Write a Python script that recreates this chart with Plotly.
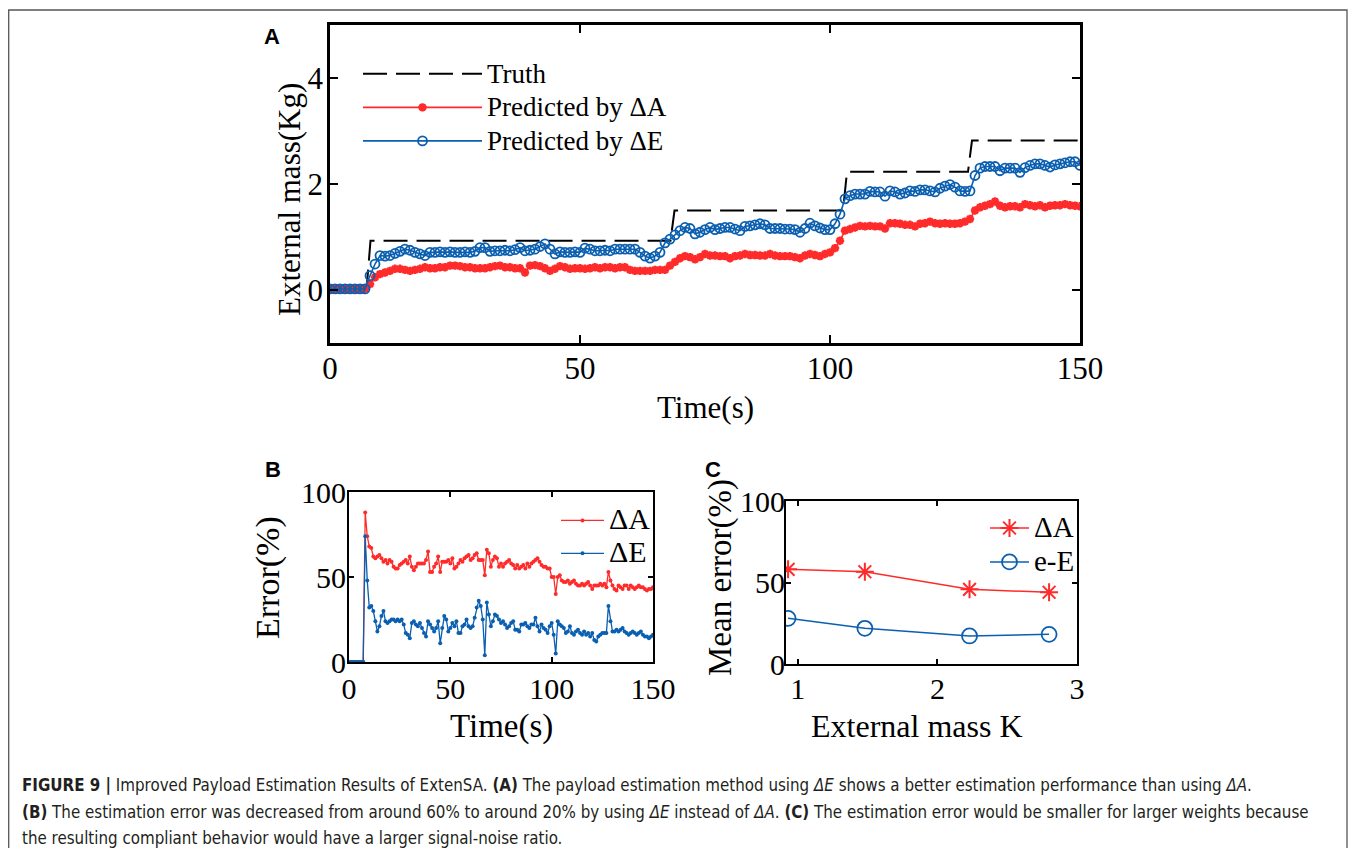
"""
Figure 9 - payload estimation results (three panels + caption)
"""
import plotly.graph_objects as go

W, H = 1340, 840
SERIF = "Liberation Serif"
RED = "#ff2b2b"
BLUE = "#0b5fb0"

# ---------------- panel A : external mass vs time (1 s samples)
time_s = list(range(151))
truth_t = [0, 7.3, 8.1, 68.1, 68.9, 102.6, 103.4, 127.6, 128.4, 150]
truth_kg = [0, 0, 0.93, 0.93, 1.50, 1.50, 2.23, 2.23, 2.82, 2.82]
pred_da = [
    0.02, 0.02, 0.02, 0.02, 0.02, 0.02, 0.02, 0.02,
    0.11, 0.24, 0.30, 0.33, 0.36, 0.40, 0.40, 0.38, 0.36, 0.38, 0.40, 0.43,
    0.41, 0.41, 0.43, 0.43, 0.46, 0.46, 0.45, 0.43, 0.43, 0.41,
    0.41, 0.41, 0.43, 0.45, 0.46, 0.43, 0.43, 0.41, 0.41, 0.33,
    0.46, 0.47, 0.45, 0.41, 0.36, 0.40, 0.45, 0.43, 0.40, 0.41,
    0.41, 0.40, 0.41, 0.43, 0.41, 0.43, 0.43, 0.41, 0.43, 0.43,
    0.38, 0.36, 0.36, 0.36, 0.36, 0.38, 0.38, 0.38, 0.46, 0.53,
    0.60, 0.64, 0.62, 0.58, 0.62, 0.68, 0.65, 0.65, 0.64, 0.64,
    0.60, 0.64, 0.65, 0.68, 0.66, 0.66, 0.65, 0.65, 0.68, 0.65,
    0.64, 0.64, 0.64, 0.62, 0.60, 0.65, 0.68, 0.66, 0.64, 0.68,
    0.71, 0.79, 0.93, 1.12, 1.15, 1.18, 1.21, 1.20, 1.21, 1.20,
    1.20, 1.16, 1.26, 1.26, 1.25, 1.23, 1.23, 1.20, 1.25, 1.26,
    1.29, 1.26, 1.25, 1.26, 1.25, 1.25, 1.26, 1.29, 1.34, 1.50,
    1.56, 1.59, 1.62, 1.67, 1.59, 1.56, 1.58, 1.58, 1.56, 1.62,
    1.60, 1.58, 1.60, 1.56, 1.59, 1.60, 1.60, 1.62, 1.60, 1.59,
    1.58,
]
pred_de = [
    0.02, 0.02, 0.02, 0.02, 0.02, 0.02, 0.02, 0.02,
    0.27, 0.49, 0.65, 0.64, 0.65, 0.69, 0.73, 0.77, 0.75, 0.71, 0.68, 0.65,
    0.71, 0.71, 0.72, 0.71, 0.72, 0.71, 0.71, 0.72, 0.71, 0.73,
    0.80, 0.80, 0.73, 0.74, 0.74, 0.75, 0.74, 0.76, 0.80, 0.74,
    0.75, 0.77, 0.82, 0.87, 0.77, 0.68, 0.72, 0.71, 0.71, 0.72,
    0.71, 0.79, 0.77, 0.74, 0.74, 0.75, 0.74, 0.77, 0.77, 0.77,
    0.77, 0.77, 0.71, 0.64, 0.60, 0.64, 0.71, 0.89, 0.96, 1.04,
    1.12, 1.18, 1.16, 1.06, 1.09, 1.14, 1.18, 1.14, 1.16, 1.18,
    1.18, 1.15, 1.12, 1.20, 1.21, 1.23, 1.25, 1.23, 1.16, 1.16,
    1.16, 1.15, 1.15, 1.14, 1.09, 1.16, 1.26, 1.21, 1.17, 1.14,
    1.14, 1.25, 1.43, 1.72, 1.78, 1.81, 1.81, 1.81, 1.86, 1.85,
    1.85, 1.77, 1.87, 1.85, 1.81, 1.83, 1.87, 1.86, 1.89, 1.89,
    1.87, 1.85, 1.92, 1.96, 1.99, 1.94, 1.87, 1.86, 1.87, 2.16,
    2.30, 2.33, 2.33, 2.33, 2.25, 2.30, 2.30, 2.30, 2.22, 2.31,
    2.35, 2.38, 2.38, 2.35, 2.32, 2.36, 2.38, 2.40, 2.42, 2.42,
    2.35,
]

# ---------------- panel B : estimation error (%)
err_da = [
    0, 0, 0, 0, 0, 0, 0, 0,
    88, 74, 68, 67, 62, 61, 62, 63, 61, 59, 60, 58,
    60, 59, 56, 55, 55, 57, 58, 59, 60, 58,
    62, 56, 54, 56, 58, 58, 58, 58, 60, 65,
    53, 53, 56, 58, 62, 53, 59, 59, 59, 60,
    58, 61, 55, 56, 58, 60, 59, 61, 62, 63,
    60, 61, 63, 64, 60, 60, 60, 51, 66, 64,
    56, 60, 62, 61, 56, 58, 56, 58, 59, 60,
    58, 57, 55, 57, 55, 56, 57, 55, 58, 56,
    58, 59, 60, 61, 59, 57, 56, 56, 55, 55,
    50, 50, 40, 50, 51, 48, 47, 47, 48, 46,
    47, 48, 46, 45, 45, 46, 45, 46, 47, 45,
    43, 45, 45, 45, 46, 45, 46, 44, 53, 48,
    45, 43, 42, 45, 44, 43, 45, 45, 43, 45,
    44, 43, 44, 45, 44, 44, 43, 42, 43, 43,
    44,
]
err_de = [
    0, 0, 0, 0, 0, 0, 0, 0,
    74, 48, 32, 33, 30, 24, 18, 21, 27, 30, 24, 23,
    24, 25, 25, 24, 25, 24, 25, 22, 17, 16,
    14, 23, 24, 22, 21, 23, 20, 17, 15, 24,
    22, 20, 18, 20, 24, 11, 20, 27, 25, 18,
    20, 23, 21, 24, 17, 17, 21, 22, 25, 21,
    20, 21, 26, 32, 36, 33, 25, 4, 35, 28,
    21, 24, 28, 27, 25, 23, 24, 22, 20, 21,
    23, 24, 19, 19, 18, 22, 22, 23, 21, 20,
    22, 22, 26, 21, 18, 22, 20, 19, 17, 21,
    23, 16, 5, 24, 22, 21, 20, 17, 18, 21,
    17, 16, 18, 19, 17, 16, 18, 16, 17, 15,
    17, 13, 12, 15, 16, 17, 17, 17, 33, 24,
    18, 18, 19, 18, 19, 20, 18, 17, 16, 17,
    18, 17, 16, 17, 18, 16, 15, 15, 14, 15,
    16,
]

# ---------------- panel C : mean error per load
mass_k = [0.93, 1.48, 2.23, 2.80]
mean_err_da = [58.1, 56.6, 45.8, 44.0]
mean_err_de = [28.0, 21.9, 17.2, 18.2]


# reference pixel -> paper coordinates (page body adds an 8 px offset)
def fx(x):
    return (x - 8) / W


def fy(y):
    return 1 - (y - 8) / H


def axis_style(lw, ticklen, size, standoff):
    return dict(
        showline=True, linecolor="black", linewidth=lw, mirror="ticks",
        ticks="inside", ticklen=ticklen, tickwidth=lw - 0.5, tickcolor="black",
        showgrid=False, zeroline=False, automargin=False,
        ticklabelstandoff=standoff,
        tickfont=dict(family=SERIF, size=size, color="black"),
    )


def big(text, size):
    # legend row height follows legend.font.size, so the label is enlarged separately
    return '<span style="font-size:%dpx">%s</span>' % (size, text)


fig = go.Figure()

# panel A
fig.add_trace(go.Scatter(
    x=truth_t, y=truth_kg, mode="lines", name=big("Truth", 27),
    line=dict(color="black", width=2, dash="24px,9px"),
    xaxis="x", yaxis="y", legend="legend"
))
fig.add_trace(go.Scatter(
    x=time_s, y=pred_da, mode="lines+markers", name=big("Predicted by ΔA", 27),
    line=dict(color=RED, width=1.6),
    marker=dict(symbol="asterisk-open", size=7, line=dict(color=RED, width=2.6)),
    xaxis="x", yaxis="y", legend="legend"
))
fig.add_trace(go.Scatter(
    x=time_s, y=pred_de, mode="lines+markers", name=big("Predicted by ΔE", 27),
    line=dict(color=BLUE, width=1.6),
    marker=dict(symbol="circle-open", size=9, line=dict(color=BLUE, width=1.8)),
    xaxis="x", yaxis="y", legend="legend"
))

# panel B
fig.add_trace(go.Scatter(
    x=time_s, y=err_da, mode="lines+markers", name=big("ΔA", 30),
    line=dict(color=RED, width=1.3), marker=dict(color=RED, size=4),
    xaxis="x2", yaxis="y2", legend="legend2"
))
fig.add_trace(go.Scatter(
    x=time_s, y=err_de, mode="lines+markers", name=big("ΔE", 30),
    line=dict(color=BLUE, width=1.3), marker=dict(color=BLUE, size=4),
    xaxis="x2", yaxis="y2", legend="legend2"
))

# panel C
fig.add_trace(go.Scatter(
    x=mass_k, y=mean_err_da, mode="lines+markers", name=big("ΔA", 29),
    line=dict(color=RED, width=1.5),
    marker=dict(symbol="asterisk-open", size=15, line=dict(color=RED, width=2)),
    xaxis="x3", yaxis="y3", legend="legend3"
))
fig.add_trace(go.Scatter(
    x=mass_k, y=mean_err_de, mode="lines+markers", name=big("e-E", 29),
    line=dict(color=BLUE, width=1.5),
    marker=dict(symbol="circle-open", size=15, line=dict(color=BLUE, width=1.8)),
    xaxis="x3", yaxis="y3", legend="legend3"
))

fig.update_layout(
    width=W, height=H,
    margin=dict(l=0, r=0, t=0, b=0),
    paper_bgcolor="white", plot_bgcolor="white",
    xaxis=dict(domain=[fx(330), fx(1080)], range=[0, 150], tickvals=[0, 50, 100, 150],
               anchor="y", **axis_style(2.5, 8, 31, -4)),
    yaxis=dict(domain=[fy(343), fy(25)], range=[-1, 5], tickvals=[0, 2, 4],
               anchor="x", **axis_style(2.5, 8, 31, -2)),
    xaxis2=dict(domain=[fx(349), fx(653)], range=[0, 150], tickvals=[0, 50, 100, 150],
                anchor="y2", **axis_style(2, 5, 30, -1)),
    yaxis2=dict(domain=[fy(662), fy(492)], range=[0, 100], tickvals=[0, 50, 100],
                anchor="x2", **axis_style(2, 5, 30, -5)),
    xaxis3=dict(domain=[fx(786), fx(1077)], range=[0.915, 3.0], tickvals=[1, 2, 3],
                anchor="y3", **axis_style(2, 5, 30, -3)),
    yaxis3=dict(domain=[fy(664), fy(501)], range=[0, 100], tickvals=[0, 50, 100],
                anchor="x3", **axis_style(2, 5, 30, -7)),
    legend=dict(x=fx(358), y=fy(52), xanchor="left", yanchor="top",
                bgcolor="rgba(0,0,0,0)", itemwidth=119, tracegroupgap=0,
                font=dict(family=SERIF, size=23.5, color="black")),
    legend2=dict(x=fx(556), y=fy(499), xanchor="left", yanchor="top",
                 bgcolor="rgba(0,0,0,0)", itemwidth=43,
                 font=dict(family=SERIF, size=23, color="black")),
    legend3=dict(x=fx(985), y=fy(506), xanchor="left", yanchor="top",
                 bgcolor="rgba(0,0,0,0)", itemwidth=39,
                 font=dict(family=SERIF, size=23.8, color="black")),
)

# axis titles and panel letters
titles = [
    ("External mass(Kg)", 290, 200, 31, -90),
    ("Time(s)", 705, 407, 31, 0),
    ("Error(%)", 268, 578, 34, -90),
    ("Time(s)", 501, 726, 33, 0),
    ("Mean error(%)", 720, 578, 33, -90),
    ("External mass K", 917, 726, 32, 0),
]
for text, x, y, size, angle in titles:
    fig.add_annotation(text=text, x=fx(x), y=fy(y), xref="paper", yref="paper",
                       showarrow=False, textangle=angle, xanchor="center", yanchor="middle",
                       font=dict(family=SERIF, size=size, color="black"))

for letter, x, y in [("A", 272, 37), ("B", 273, 469), ("C", 713, 469)]:
    fig.add_annotation(text="<b>%s</b>" % letter, x=fx(x), y=fy(y), xref="paper", yref="paper",
                       showarrow=False, xanchor="center", yanchor="middle",
                       font=dict(family="Liberation Sans", size=22, color="black"))

# caption
caption = [
    "<b>FIGURE 9 |</b> Improved Payload Estimation Results of ExtenSA. <b>(A)</b> The payload "
    "estimation method using <i>ΔE</i> shows a better estimation performance than using <i>ΔA</i>.",
    "<b>(B)</b> The estimation error was decreased from around 60% to around 20% by using "
    "<i>ΔE</i> instead of <i>ΔA</i>. <b>(C)</b> The estimation error would be smaller for "
    "larger weights because",
    "the resulting compliant behavior would have a larger signal-noise ratio.",
]
for i, line in enumerate(caption):
    fig.add_annotation(text=line, x=fx(20), y=fy(785 + 26.5 * i), xref="paper", yref="paper",
                       showarrow=False, xanchor="left", yanchor="middle", align="left",
                       font=dict(family="DejaVu Sans Condensed, Liberation Sans, sans-serif",
                                 size=16.8, color="#231f20"))

# thin grey frame round the figure
fig.add_shape(type="path", xref="paper", yref="paper",
              path="M%f,%f L%f,%f L%f,%f L%f,%f" % (
                  fx(8.7), fy(860), fx(8.7), fy(10), fx(1347), fy(10), fx(1347), fy(860)),
              line=dict(color="#555555", width=1.3))

fig.write_html("out.html")
